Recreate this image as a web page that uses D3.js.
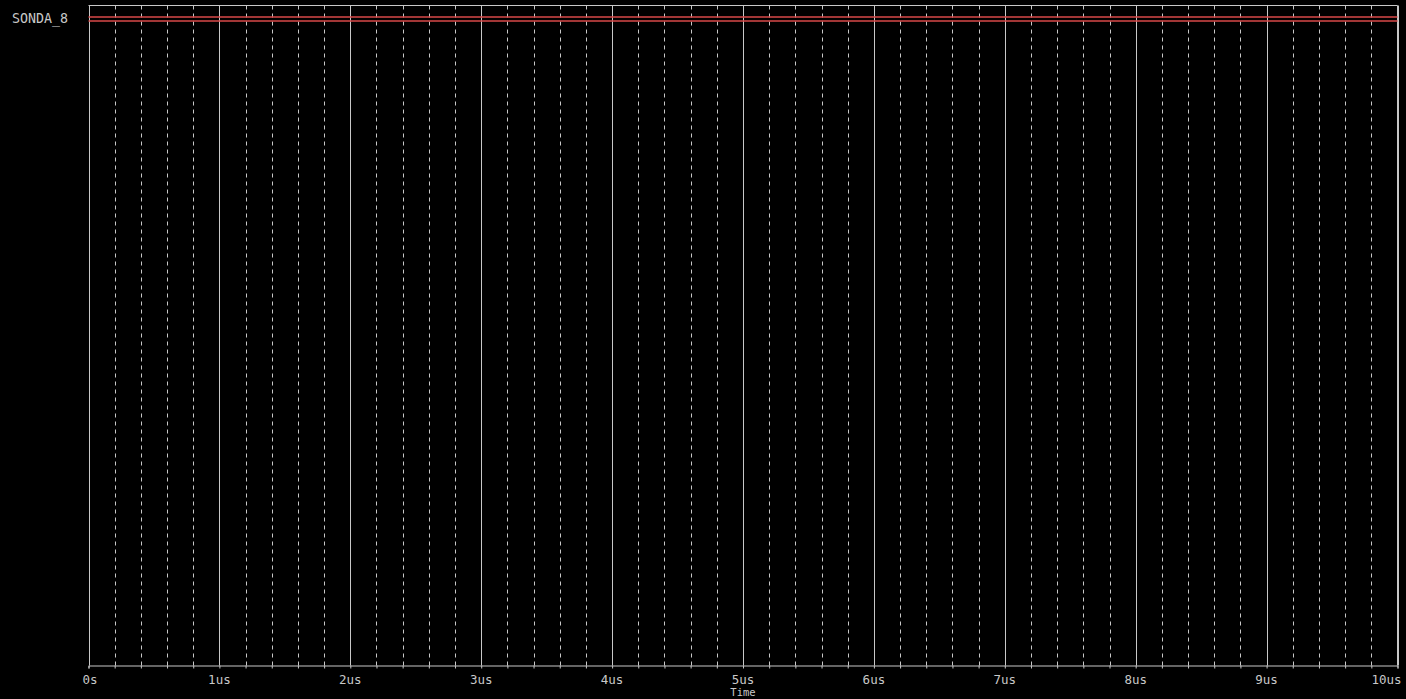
<!DOCTYPE html>
<html><head><meta charset="utf-8">
<script src="https://cdn.jsdelivr.net/npm/d3@7"></script>
<style>html,body{margin:0;padding:0;background:#000;overflow:hidden}</style>
</head><body>
<svg id="c" width="1406" height="699"></svg>
<script>
const signalName = "SONDA_8";
const xDomain = [0, 10];           // microseconds
const majorTicks = [0,1,2,3,4,5,6,7,8,9,10];
const tickLabels = ["0s","1us","2us","3us","4us","5us","6us","7us","8us","9us","10us"];
const minorTicks = [0.2,0.4,0.6,0.8,1.2,1.4,1.6,1.8,2.2,2.4,2.6,2.8,3.2,3.4,3.6,3.8,4.2,4.4,4.6,4.8,5.2,5.4,5.6,5.8,6.2,6.4,6.6,6.8,7.2,7.4,7.6,7.8,8.2,8.4,8.6,8.8,9.2,9.4,9.6,9.8];
// digital bus trace: level pair drawn as two rails
const busTimes = [0, 10];
const busRails = [0, 1];
const xLabel = "Time";

const svg = d3.select("#c");
const L = 88.5, R = 1397.5, T = 5.5, B = 665.5;
const x = d3.scaleLinear().domain(xDomain).range([L, R]);
const yRail = d3.scaleLinear().domain([0,1]).range([17, 21]);
const grey = "#c8c8c8";
const font = "'DejaVu Sans Mono', monospace";

// minor dashed grid
svg.append("g").selectAll("line").data(minorTicks).join("line")
  .attr("x1", d=>Math.round(x(d))+0.5).attr("x2", d=>Math.round(x(d))+0.5)
  .attr("y1", T).attr("y2", B)
  .attr("stroke", grey).attr("stroke-width", 1).attr("stroke-dasharray", "4,4");
// major grid
svg.append("g").selectAll("line").data(majorTicks).join("line")
  .attr("x1", d=>Math.round(x(d))+0.5).attr("x2", d=>Math.round(x(d))+0.5)
  .attr("y1", T).attr("y2", B)
  .attr("stroke", grey).attr("stroke-width", 1);
// border top/right
svg.append("line").attr("x1", L).attr("x2", R).attr("y1", T).attr("y2", T).attr("stroke", grey);
svg.append("line").attr("x1", R).attr("x2", R).attr("y1", T).attr("y2", B).attr("stroke", grey);

// x axis
const ax = svg.append("g").attr("transform", `translate(0,${B})`)
  .call(d3.axisBottom(x).tickValues(majorTicks.concat(minorTicks)).tickSize(3).tickFormat(""));
ax.select(".domain").attr("stroke", grey);
ax.selectAll(".tick line").attr("stroke", grey);
svg.append("g").selectAll("text").data(majorTicks).join("text")
  .attr("x", d=>x(d)).attr("y", 684)
  .attr("text-anchor", (d,i)=> i===0 ? "start" : (i===majorTicks.length-1 ? "end" : "middle"))
  .attr("dx", (d,i)=> i===0 ? -6 : (i===majorTicks.length-1 ? 4 : 0))
  .attr("fill", grey).attr("font-family", font).attr("font-size", 12.5)
  .text((d,i)=>tickLabels[i]);
svg.append("text").attr("x", x(5)).attr("y", 696).attr("text-anchor","middle")
  .attr("fill", grey).attr("font-family", font).attr("font-size", 10.5).text(xLabel);

// signal name
svg.append("text").attr("x", 12).attr("y", 23).attr("fill", grey)
  .attr("font-family", font).attr("font-size", 13.3).text(signalName);

// bus rails
const line = d3.line().x(d=>x(d[0])).y(d=>d[1]);
svg.append("g").selectAll("path").data(busRails).join("path")
  .attr("d", r => line(busTimes.map(t=>[t, yRail(r)])))
  .attr("fill","none").attr("stroke","#d84848").attr("stroke-width",1.5);
</script>
</body></html>
